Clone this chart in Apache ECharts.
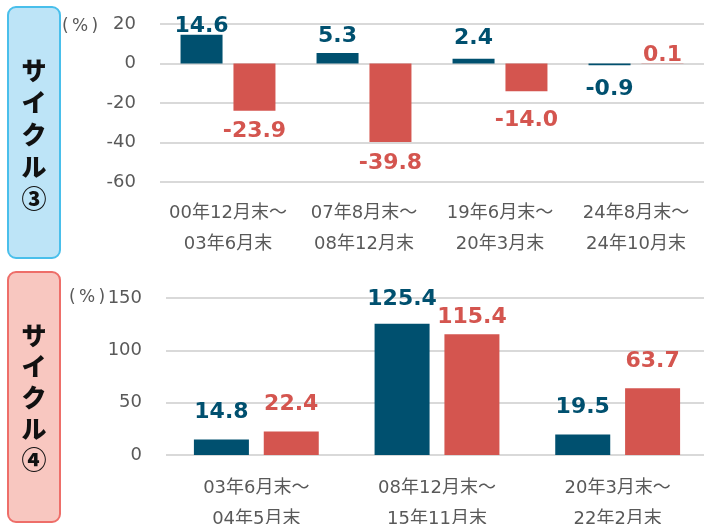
<!DOCTYPE html>
<html>
<head>
<meta charset="utf-8">
<script src="https://cdn.jsdelivr.net/npm/echarts@6/dist/echarts.min.js"></script>
<style>
  html, body { margin: 0; padding: 0; background: #fff; }
  #main { width: 704px; height: 524px; }
</style>
</head>
<body>
<div id="main"></div>
<script>
// サイクル③
var cats3 = ['00年12月末～\n03年6月末', '07年8月末～\n08年12月末', '19年6月末～\n20年3月末', '24年8月末～\n24年10月末']
var blue3 = [14.6, 5.3, 2.4, -0.9]
var red3 = [-23.9, -39.8, -14.0, 0.1]

// サイクル④
var cats4 = ['03年6月末～\n04年5月末', '08年12月末～\n15年11月末', '20年3月末～\n22年2月末']
var blue4 = [14.8, 125.4, 19.5]
var red4 = [22.4, 115.4, 63.7]

var BLUE = '#00506f'
var RED = '#d4554f'
var GRAY = '#595959'
var NUM_FONT = "'DejaVu Sans', 'Noto Sans CJK JP', sans-serif"

// 正の値は上、負の値は下にラベル（nudge: 元図の微調整ぶん下へずらす）
function withLabels(values, color, dist, nudge) {
  return values.map(function (v, i) {
    var dy = nudge ? nudge[i] : 0
    return {
      value: v,
      label: {
        show: true,
        position: v < 0 ? 'bottom' : 'top',
        distance: dist,
        offset: [0, dy],
        color: color,
        fontSize: 22,
        fontWeight: 'bold',
        fontFamily: NUM_FONT,
        formatter: function (p) { return p.value.toFixed(1) }
      }
    }
  })
}

function catAxis(idx, data, margin) {
  return {
    type: 'category',
    gridIndex: idx,
    data: data,
    axisLine: { show: false, onZero: false },
    axisTick: { show: false },
    axisLabel: {
      interval: 0,
      color: GRAY,
      fontSize: 18,
      lineHeight: 31,
      margin: margin,
      fontFamily: NUM_FONT
    }
  }
}

function valAxis(idx, min, max, step) {
  return {
    type: 'value',
    gridIndex: idx,
    min: min,
    max: max,
    interval: step,
    axisLine: { show: false },
    axisTick: { show: false },
    axisLabel: { color: GRAY, fontSize: 18, margin: 24, fontFamily: NUM_FONT },
    splitLine: { lineStyle: { color: '#d9d9d9', width: 2 } }
  }
}

var option = {
  backgroundColor: '#fff',
  animation: false,
  grid: [
    { left: 160, right: 0, top: 24, height: 158, outerBoundsMode: 'none', containLabel: false },
    { left: 166, right: -4, top: 298, height: 157, outerBoundsMode: 'none', containLabel: false }
  ],
  xAxis: [catAxis(0, cats3, 16), catAxis(1, cats4, 18)],
  yAxis: [valAxis(0, -60, 20, 20), valAxis(1, 0, 150, 50)],
  series: [
    { type: 'bar', name: 'blue3', xAxisIndex: 0, yAxisIndex: 0, barWidth: 42, barGap: '26%',
      itemStyle: { color: BLUE }, data: withLabels(blue3, BLUE, 6, [9, 0, -3, 7]) },
    { type: 'bar', name: 'red3', xAxisIndex: 0, yAxisIndex: 0, barWidth: 42, barGap: '26%',
      itemStyle: { color: RED }, data: withLabels(red3, RED, 10, [0, 0, 8, 13]) },
    { type: 'bar', name: 'blue4', xAxisIndex: 1, yAxisIndex: 1, barWidth: 55, barGap: '27%',
      itemStyle: { color: BLUE }, data: withLabels(blue4, BLUE, 16, [0, 3, 0]) },
    { type: 'bar', name: 'red4', xAxisIndex: 1, yAxisIndex: 1, barWidth: 55, barGap: '27%',
      itemStyle: { color: RED }, data: withLabels(red4, RED, 16, [0, 10, 0]) }
  ],
  graphic: [
    // 左側のラベル枠
    { type: 'rect', shape: { x: 8, y: 7, width: 52, height: 251, r: 8 },
      style: { fill: '#bde4f7', stroke: '#49bfeb', lineWidth: 2 } },
    { type: 'text', style: { text: 'サ\nイ\nク\nル\n③', x: 34, y: 134, align: 'center', verticalAlign: 'middle',
      fill: '#111', fontSize: 25, fontWeight: 900, lineHeight: 32, fontFamily: "'Noto Sans CJK JP'" } },
    { type: 'rect', shape: { x: 8, y: 272, width: 52, height: 250, r: 8 },
      style: { fill: '#f8c7c0', stroke: '#ee6e69', lineWidth: 2 } },
    { type: 'text', style: { text: 'サ\nイ\nク\nル\n④', x: 34, y: 397, align: 'center', verticalAlign: 'middle',
      fill: '#111', fontSize: 25, fontWeight: 900, lineHeight: 31, fontFamily: "'Noto Sans CJK JP'" } },
    // 単位
    { type: 'text', style: { text: '(\u2009%\u2009)', x: 62, y: 27, verticalAlign: 'middle', fill: GRAY, fontSize: 17, fontFamily: NUM_FONT } },
    { type: 'text', style: { text: '(\u2009%\u2009)', x: 69, y: 298, verticalAlign: 'middle', fill: GRAY, fontSize: 17, fontFamily: NUM_FONT } }
  ]
};

var chart = echarts.init(document.getElementById('main'), null, { renderer: 'canvas' })
chart.setOption(option)
</script>
</body>
</html>
